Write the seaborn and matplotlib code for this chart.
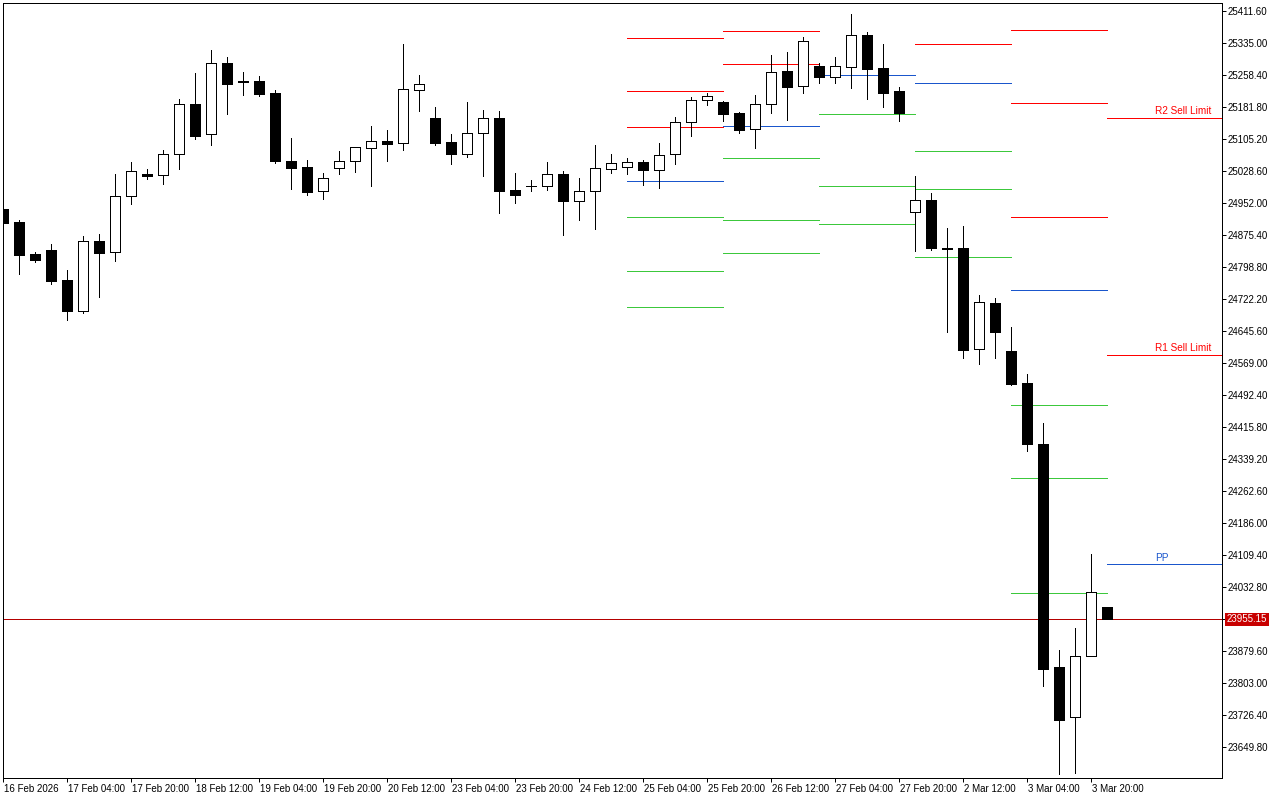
import numpy as np
import pandas as pd
import matplotlib
matplotlib.use("Agg")
import matplotlib.pyplot as plt
import seaborn as sns
from matplotlib import transforms

# ---------------- data (H4 bars, US Tech index) ----------------
opens = [24937.6, 24906.5, 24829.9, 24839.5, 24767.7, 24694.2, 24861.0, 24834.0, 24968.0, 25021.4,
         25018.3, 25068.6, 25188.3, 25116.4, 25286.4, 25244.0, 25244.0, 25215.3, 25052.5, 25038.2,
         24980.0, 25035.1, 25051.8, 25082.9, 25099.7, 25094.9, 25221.8, 25154.8, 25097.3, 25070.0,
         25118.8, 25154.8, 24982.4, 24992.0, 24992.0, 25020.7, 24956.1, 24980.0, 25032.7, 25037.5,
         25049.4, 25031.7, 25068.6, 25145.2, 25197.8, 25193.1, 25166.7, 25128.4, 25188.3, 25268.0,
         25231.4, 25279.2, 25254.3, 25276.8, 25353.4, 25274.4, 25220.1, 24929.7, 24959.2, 24843.6,
         24844.3, 24601.8, 24712.6, 24597.7, 24521.1, 24375.1, 23841.3, 23720.9, 23866.9, 23984.9]
highs = [24942.4, 24911.3, 24834.0, 24853.9, 24791.6, 24873.0, 24877.8, 25021.4, 25050.1, 25033.4,
         25078.9, 25201.0, 25263.2, 25318.2, 25301.5, 25265.6, 25256.0, 25222.5, 25107.6, 25054.9,
         25023.8, 25076.5, 25085.3, 25136.3, 25126.7, 25332.6, 25258.4, 25181.8, 25117.2, 25193.8,
         25174.6, 25172.2, 25023.8, 25007.1, 25050.1, 25028.6, 25011.8, 25090.8, 25069.3, 25059.7,
         25054.9, 25094.9, 25157.9, 25205.0, 25214.6, 25196.2, 25169.8, 25209.8, 25306.3, 25313.5,
         25348.6, 25286.4, 25300.8, 25403.7, 25360.6, 25331.9, 25229.0, 25016.6, 24975.2, 24892.2,
         24896.9, 24731.8, 24724.6, 24654.5, 24542.7, 24425.4, 23882.0, 23934.7, 24111.8, 23984.9]
lows = [24899.3, 24782.8, 24811.5, 24758.8, 24672.7, 24689.4, 24727.7, 24813.9, 24950.3, 25009.5,
        24998.2, 25034.1, 25105.9, 25091.5, 25165.8, 25211.2, 25208.9, 25047.8, 24986.2, 24971.2,
        24961.6, 25022.1, 25026.9, 24993.4, 25053.3, 25079.6, 25172.9, 25091.5, 25046.1, 25062.8,
        25017.4, 24928.8, 24952.7, 24981.4, 24983.8, 24876.1, 24912.0, 24890.5, 25024.5, 25022.1,
        24995.8, 24988.6, 25046.1, 25113.1, 25187.3, 25149.0, 25120.3, 25084.4, 25168.2, 25151.4,
        25216.0, 25240.0, 25240.0, 25228.0, 25201.7, 25182.5, 25149.0, 24837.8, 24840.2, 24643.2,
        24581.7, 24567.3, 24581.7, 24517.5, 24359.1, 23796.5, 23585.9, 23588.3, 23866.9, 23955.15]
closes = [24904.1, 24828.2, 24816.3, 24766.0, 24694.2, 24861.0, 24833.0, 24968.0, 25027.9, 25017.4,
          25068.6, 25188.3, 25113.1, 25286.4, 25237.6, 25240.9, 25213.6, 25053.3, 25036.5, 24979.1,
          25011.1, 25051.8, 25085.3, 25099.7, 25094.0, 25224.2, 25236.1, 25096.3, 25070.0, 25118.8,
          25154.8, 24981.4, 24971.9, 24992.0, 25020.7, 24957.5, 24980.0, 25035.1, 25047.0, 25049.4,
          25031.7, 25066.2, 25145.2, 25197.8, 25207.4, 25165.8, 25127.5, 25188.3, 25264.9, 25230.4,
          25339.1, 25254.3, 25279.2, 25353.4, 25273.5, 25216.0, 25168.2, 24958.5, 24844.3, 24843.0,
          24600.8, 24714.3, 24643.9, 24519.4, 24374.4, 23837.2, 23715.2, 23866.9, 24020.8, 23955.15]

current_price = 23955.15
ytick_first = 23649.8
ytick_step = 76.6
pivot_days_shown = 6
level_labels = {"R2": "R2 Sell Limit", "R1": "R1 Sell Limit", "PP": "PP"}

# ---------------- prepare ----------------
times = pd.date_range("2026-02-16 12:00", "2026-03-04 00:00", freq="4h")
times = times[times.dayofweek < 5]
df = pd.DataFrame({"time": times, "open": opens, "high": highs, "low": lows, "close": closes})
df["idx"] = np.arange(len(df))
df["day"] = df["time"].dt.normalize()

daily = df.groupby("day").agg(high=("high", "max"), low=("low", "min"),
                              close=("close", "last"), start=("idx", "min")).reset_index()

# ---------------- style ----------------
sns.set_theme(style="white")
plt.rcParams["font.family"] = ["Liberation Sans", "DejaVu Sans"]
plt.rcParams["axes.edgecolor"] = "black"
plt.rcParams["axes.linewidth"] = 0.72

W, H = 1280, 800
fig = plt.figure(figsize=(W / 100, H / 100), dpi=100, facecolor="white")
ax = fig.add_axes([3 / W, 22 / H, 1219 / W, 775 / H])
ax.set_facecolor("white")

x_right = 1219 / 16.0
ymin, ymax = 23575.6, 25430.75
ax.set_xlim(0, x_right)
ax.set_ylim(ymin, ymax)

RED = "#ff0000"
BLUE = "#1a56cc"
GREEN = "#3cc83c"
LW = 0.72  # one pixel

# ---------------- pivots (classic, from previous day's H/L/C) ----------------
for p in range(len(daily) - pivot_days_shown, len(daily)):
    prev = daily.iloc[p - 1]
    Hh, Ll, Cc = prev["high"], prev["low"], prev["close"]
    pp = (Hh + Ll + Cc) / 3
    lv = {
        "R3": Hh + 2 * (pp - Ll), "R2": pp + (Hh - Ll), "R1": 2 * pp - Ll,
        "PP": pp,
        "S1": 2 * pp - Hh, "S2": pp - (Hh - Ll), "S3": Ll - 2 * (Hh - pp),
    }
    x0 = daily.iloc[p]["start"]
    x1 = daily.iloc[p + 1]["start"] if p + 1 < len(daily) else x_right
    last = p == len(daily) - 1
    for name, val in lv.items():
        col = RED if name.startswith("R") else (BLUE if name == "PP" else GREEN)
        ax.hlines(val, x0, x1, colors=col, linewidth=LW, antialiased=False, zorder=1)
        if last and name in level_labels and ymin < val < ymax:
            ax.annotate(level_labels[name], xy=(72, val), xytext=(0, 2.6),
                        textcoords="offset points", ha="left", va="baseline",
                        color=col, fontsize=7.2, zorder=5)

# ---------------- current price line ----------------
ax.axhline(current_price, color="#b40000", linewidth=LW, antialiased=False, zorder=1.5)

# ---------------- candles ----------------
ax.vlines(df["idx"], df["low"], df["high"], colors="black", linewidth=LW,
          antialiased=False, zorder=2)
body_low = np.minimum(df["open"], df["close"])
body_h = (df["open"] - df["close"]).abs()
face = np.where(df["close"] > df["open"], "white", "black")
ax.bar(df["idx"], body_h, bottom=body_low, width=0.64, color=face,
       edgecolor="black", linewidth=LW, antialiased=False, zorder=3)

# ---------------- axes / ticks ----------------
yt = np.round(ytick_first + ytick_step * np.arange(24), 2)
ax.set_yticks(yt)
ax.set_yticklabels(["" if abs(v - current_price) < 5 else f"{v:.2f}" for v in yt])
ax.yaxis.tick_right()
ax.tick_params(axis="y", which="major", right=True, left=False, labelright=True,
               labelleft=False, length=3, width=LW, pad=1.2, labelsize=7,
               colors="black", direction="out")

xt_idx = df["idx"].values[::4]
xt_lbl = []
for k, i in enumerate(xt_idx):
    t = df["time"].iloc[i]
    xt_lbl.append(f"{t.day} {t:%b %Y}" if k == 0 else f"{t.day} {t:%b %H:%M}")
ax.set_xticks(xt_idx)
ax.set_xticklabels(xt_lbl, ha="left")
ax.tick_params(axis="x", which="major", bottom=True, length=3, width=LW, pad=1.5,
               labelsize=7, colors="black", direction="out")
off = transforms.ScaledTranslation(1.5 / 100, 0, fig.dpi_scale_trans)
for lab in ax.get_xticklabels():
    lab.set_transform(lab.get_transform() + off)

for s in ax.spines.values():
    s.set_visible(True)
    s.set_color("black")
    s.set_linewidth(LW)
ax.grid(False)

# price tag on the right scale
ax.annotate(f"{current_price:.2f}", xy=(1, current_price),
            xycoords=ax.get_yaxis_transform(), xytext=(3.6, 0),
            textcoords="offset points", ha="left", va="center", color="white",
            fontsize=7, annotation_clip=False, zorder=10,
            bbox=dict(boxstyle="square,pad=0.18", fc="#c80000", ec="none"))

fig.savefig("out.png", dpi=100, facecolor="white")
